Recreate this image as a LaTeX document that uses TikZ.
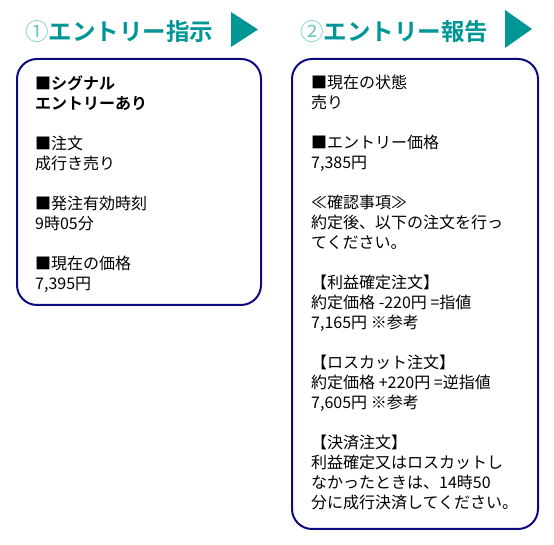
\documentclass[tikz,border=0pt]{standalone}
\usepackage{fontspec}
\setmainfont{Noto Sans CJK JP}
\newfontfamily\jpbold{Noto Sans CJK JP Bold}
\newfontfamily\jpplain{Noto Sans CJK JP}
\usepackage{tikz}
\definecolor{headteal}{RGB}{0,150,150}
\definecolor{circteal}{RGB}{110,200,200}
\definecolor{framenavy}{RGB}{12,12,128}
\tikzset{
    headline/.style={anchor=west, inner sep=0pt, text=headteal,
    	font=\jpbold\fontsize{23.5}{26}\selectfont}
}
\tikzset{
    panel/.style={draw=framenavy, line width=2pt, rounded corners=20pt,
    	fill=white, inner sep=0pt}
}
\tikzset{
    bodytext/.style={anchor=north west, align=left, inner sep=0pt,
    	font=\fontsize{16}{20}\selectfont}
}

\begin{document}
\begin{tikzpicture}[x=1pt, y=1pt]
  \useasboundingbox (0,0) rectangle (554,545);

  \node (h1) [headline] at (25,513) {\textcolor{circteal}{\jpplain ①}エントリー指示};
  \node (h2) [headline] at (300,513) {\textcolor{circteal}{\jpplain ②}エントリー報告};
  \fill[headteal] (231,533) -- (258,515.5) -- (231,498) -- cycle;
  \fill[headteal] (505,535) -- (532,516) -- (505,497) -- cycle;

  \node (p1) [panel, minimum width=244pt, minimum height=246pt] at (139,363) {};
  \node (p2) [panel, minimum width=246pt, minimum height=470pt] at (415,251) {};

  \node (t1) [bodytext] at (35,470) {%
    {\jpbold ■シグナル}\\
    {\jpbold エントリーあり}\\[20pt]
    ■注文\\
    成行き売り\\[20pt]
    ■発注有効時刻\\
    9時05分\\[20pt]
    ■現在の価格\\
    7,395円};
  \node (t2) [bodytext] at (311,470) {%
    ■現在の状態\\
    売り\\[20pt]
    ■エントリー価格\\
    7,385円\\[20pt]
    ≪確認事項≫\\
    約定後、以下の注文を行っ\\
    てください。\\[20pt]
    【利益確定注文】\\
    約定価格 -220円 =指値\\
    7,165円 ※参考\\[20pt]
    【ロスカット注文】\\
    約定価格 +220円 =逆指値\\
    7,605円 ※参考\\[20pt]
    【決済注文】\\
    利益確定又はロスカットし\\
    なかったときは、14時50\\
    分に成行決済してください。};
\end{tikzpicture}
\end{document}
